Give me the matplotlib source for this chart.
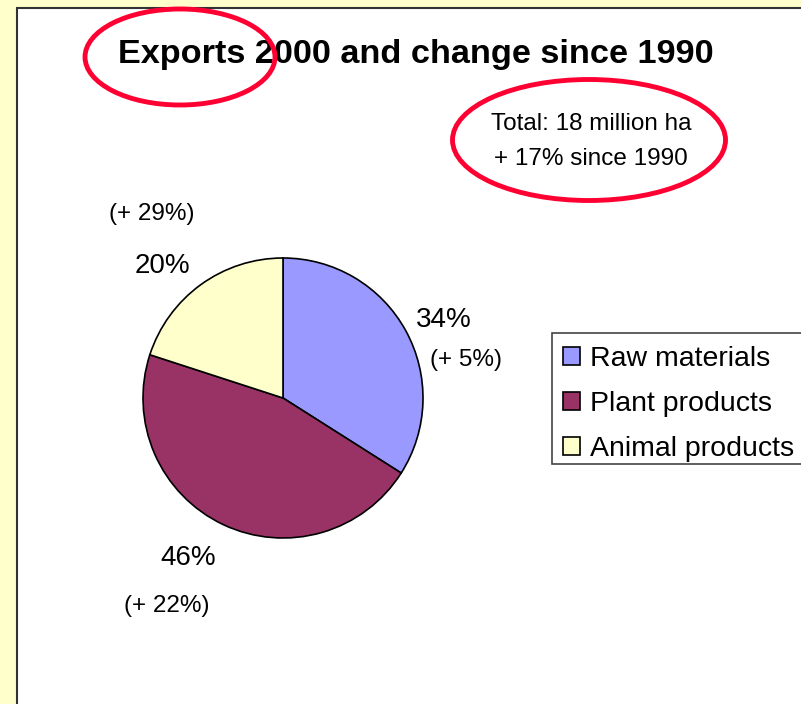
import matplotlib
matplotlib.use("Agg")
import matplotlib.pyplot as plt
from matplotlib.patches import Rectangle, Ellipse

# ---- data ----
categories = ["Raw materials", "Plant products", "Animal products"]
shares = [34, 46, 20]
changes = [5, 22, 29]
colors = ["#9999FF", "#993366", "#FFFFCC"]
title = "Exports 2000 and change since 1990"
total_lines = ["Total: 18 million ha", "+ 17% since 1990"]

W, H = 801, 704
plt.rcParams['font.family'] = ['Liberation Sans', 'DejaVu Sans']
fig = plt.figure(figsize=(W / 100, H / 100), dpi=100, facecolor="#FFFFCC")

# overlay axes in pixel coordinates
ov = fig.add_axes([0, 0, 1, 1])
ov.set_xlim(0, W)
ov.set_ylim(H, 0)
ov.axis("off")
ov.add_patch(Rectangle((17, 8), W, H, facecolor="white", edgecolor="#333333", lw=1.5, zorder=0))

ov.text(416, 54, title, ha="center", va="center", fontsize=24.7, fontweight="bold", color="black")
ov.text(591, 124, total_lines[0], ha="center", va="center", fontsize=17.5)
ov.text(591, 159, total_lines[1], ha="center", va="center", fontsize=17.5)

ov.add_patch(Ellipse((180, 57), 190, 96, fill=False, edgecolor="#FF0033", lw=3.5, zorder=5))
ov.add_patch(Ellipse((589, 140), 273, 121, fill=False, edgecolor="#FF0033", lw=3.5, zorder=5))

# legend frame (extends past the right edge)
ov.add_patch(Rectangle((552, 333), 300, 131, facecolor="white", edgecolor="#444444", lw=1.2, zorder=1))

# pie axes
cx, cy, r = 283, 398, 140
pax = fig.add_axes([(cx - r) / W, (H - cy - r) / H, 2 * r / W, 2 * r / H])
pax.set_facecolor("none")
wedges, _ = pax.pie(shares, colors=colors, startangle=90, counterclock=False,
                    wedgeprops=dict(edgecolor="black", linewidth=1.2))
pax.set_xlim(-1, 1)
pax.set_ylim(-1, 1)
pax.axis("off")

# labels (pixel positions)
pct_pos = [(444, 320), (188, 558), (162, 266)]
chg_pos = [(466, 360), (167, 606), (152, 214)]
for v, c, p, q in zip(shares, changes, pct_pos, chg_pos):
    ov.text(p[0], p[1], f"{v}%", ha="center", va="center", fontsize=20)
    ov.text(q[0], q[1], f"(+ {c}%)", ha="center", va="center", fontsize=17.5)

leg = fig.legend(wedges, categories, loc="upper left",
                 bbox_to_anchor=(552 / W, 1 - 335 / H), bbox_transform=fig.transFigure,
                 fontsize=20.5, frameon=False,
                 borderpad=0.4, handlelength=0.6, handleheight=0.6,
                 handletextpad=0.35, labelspacing=0.66, borderaxespad=0)

fig.savefig("out.png", dpi=100, facecolor=fig.get_facecolor())
